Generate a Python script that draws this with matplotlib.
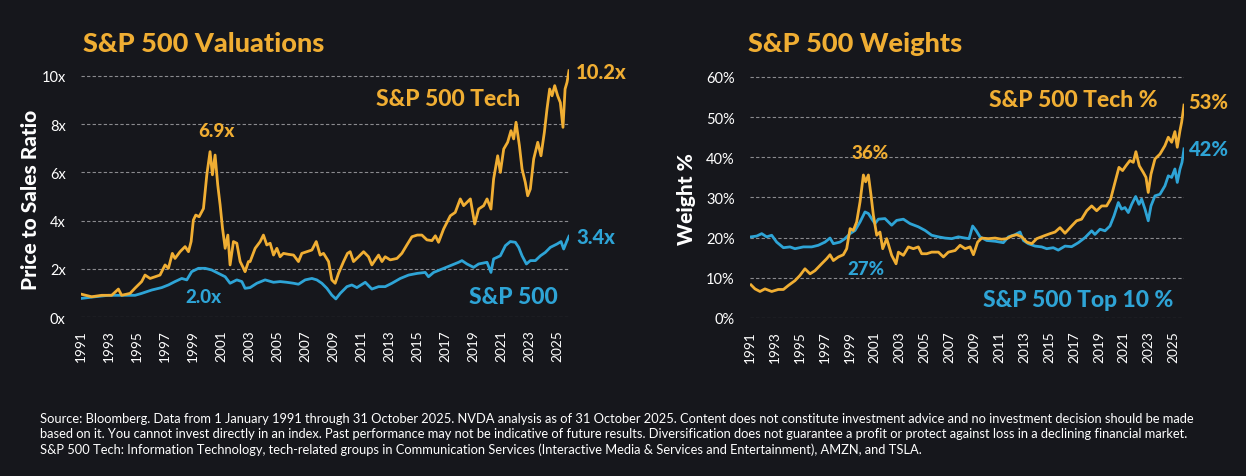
import matplotlib.pyplot as plt

# ---- data ----
ps_tech_years = [1991.00, 1991.76, 1992.48, 1993.19, 1993.67, 1993.90, 1994.50, 1994.86, 1995.33, 1995.57,
                 1995.93, 1996.29, 1996.64, 1997.00, 1997.24, 1997.52, 1997.71, 1998.07, 1998.43, 1998.67,
                 1998.86, 1999.02, 1999.19, 1999.43, 1999.74, 1999.98, 2000.21, 2000.38, 2000.57, 2000.76,
                 2000.93, 2001.10, 2001.29, 2001.48, 2001.64, 2001.88, 2002.12, 2002.36, 2002.60, 2002.71,
                 2002.95, 2003.07, 2003.43, 2003.79, 2004.02, 2004.26, 2004.50, 2004.74, 2004.98, 2005.21,
                 2005.45, 2005.81, 2006.17, 2006.52, 2006.76, 2007.12, 2007.48, 2007.79, 2008.07, 2008.31,
                 2008.67, 2008.90, 2009.14, 2009.38, 2009.74, 2010.02, 2010.21, 2010.45, 2010.81, 2011.17,
                 2011.52, 2011.76, 2012.00, 2012.24, 2012.48, 2012.71, 2013.07, 2013.55, 2013.90, 2014.26,
                 2014.62, 2015.00, 2015.33, 2015.69, 2016.05, 2016.29, 2016.52, 2016.88, 2017.36, 2017.71,
                 2018.07, 2018.31, 2018.55, 2018.79, 2019.10, 2019.38, 2019.74, 2019.98, 2020.26, 2020.45,
                 2020.74, 2020.93, 2021.17, 2021.45, 2021.69, 2021.88, 2022.05, 2022.29, 2022.48, 2022.71,
                 2022.88, 2023.07, 2023.31, 2023.60, 2023.83, 2024.07, 2024.26, 2024.45, 2024.62, 2024.81,
                 2025.02, 2025.21, 2025.40, 2025.55, 2025.69, 2025.83]
ps_tech = [0.95, 0.84, 0.90, 0.90, 1.16, 0.90, 0.98, 1.20, 1.47, 1.74,
           1.60, 1.67, 1.74, 2.16, 2.02, 2.64, 2.43, 2.71, 2.92, 2.71,
           3.13, 4.02, 4.23, 4.16, 4.50, 5.90, 6.86, 5.90, 6.72, 5.48,
           4.65, 3.68, 2.85, 3.40, 2.16, 3.13, 3.06, 2.30, 2.02, 1.88,
           2.30, 2.30, 2.85, 3.13, 3.40, 2.99, 3.06, 2.57, 2.85, 2.50,
           2.64, 2.60, 2.57, 2.30, 2.64, 2.71, 2.78, 3.13, 2.57, 2.64,
           2.30, 1.54, 1.40, 1.81, 2.30, 2.64, 2.71, 2.30, 2.50, 2.71,
           2.50, 2.16, 2.37, 2.57, 2.30, 2.50, 2.37, 2.43, 2.64, 2.99,
           3.33, 3.40, 3.40, 3.20, 3.17, 3.37, 3.10, 3.65, 4.20, 4.34,
           4.90, 4.62, 4.76, 4.90, 3.86, 4.48, 4.62, 4.90, 4.48, 5.73,
           6.69, 6.00, 6.97, 7.25, 7.73, 7.39, 8.08, 7.11, 6.14, 5.59,
           5.03, 5.31, 6.56, 7.25, 6.69, 7.66, 8.63, 9.46, 9.18, 9.60,
           9.18, 8.90, 7.87, 9.46, 9.74, 10.22]

ps_spx_years = [1991.00, 1992.00, 1992.95, 1994.14, 1994.86, 1995.33, 1996.05, 1996.76, 1997.24, 1997.71,
                1998.19, 1998.55, 1998.90, 1999.38, 1999.86, 2000.33, 2000.81, 2001.29, 2001.64, 2002.12,
                2002.48, 2002.71, 2003.07, 2003.55, 2004.14, 2004.74, 2005.21, 2005.69, 2006.17, 2006.52,
                2007.00, 2007.48, 2007.83, 2008.19, 2008.55, 2008.90, 2009.19, 2009.50, 2009.98, 2010.33,
                2010.69, 2011.29, 2011.76, 2012.24, 2012.71, 2013.19, 2013.79, 2014.38, 2015.00, 2015.57,
                2015.80, 2016.17, 2016.64, 2017.36, 2017.95, 2018.19, 2018.55, 2019.02, 2019.38, 2019.98,
                2020.26, 2020.45, 2020.93, 2021.29, 2021.64, 2022.00, 2022.24, 2022.48, 2022.79, 2023.07,
                2023.43, 2023.79, 2024.14, 2024.50, 2024.98, 2025.26, 2025.45, 2025.69, 2025.83]
ps_spx = [0.77, 0.84, 0.90, 0.90, 0.90, 0.98, 1.12, 1.22, 1.33, 1.47,
          1.60, 1.54, 1.88, 2.02, 2.02, 1.95, 1.81, 1.67, 1.40, 1.54,
          1.47, 1.19, 1.22, 1.40, 1.54, 1.44, 1.47, 1.44, 1.40, 1.36,
          1.54, 1.60, 1.54, 1.40, 1.19, 0.91, 0.75, 0.98, 1.26, 1.33,
          1.22, 1.44, 1.16, 1.26, 1.26, 1.40, 1.60, 1.74, 1.81, 1.85,
          1.67, 1.85, 1.96, 2.13, 2.27, 2.34, 2.20, 2.06, 2.20, 2.27,
          1.85, 2.41, 2.54, 2.96, 3.13, 3.10, 2.89, 2.54, 2.20, 2.34,
          2.34, 2.54, 2.68, 2.89, 3.03, 3.13, 2.82, 3.17, 3.35]

wt_tech_years = [1991.08, 1991.40, 1991.80, 1992.20, 1992.74, 1993.27, 1993.68, 1994.08, 1994.61, 1995.01,
                 1995.41, 1995.82, 1996.22, 1996.75, 1997.15, 1997.42, 1997.69, 1998.09, 1998.49, 1998.76,
                 1999.03, 1999.29, 1999.56, 1999.83, 2000.10, 2000.28, 2000.50, 2000.71, 2000.90, 2001.17,
                 2001.43, 2001.65, 2001.97, 2002.37, 2002.72, 2002.91, 2003.31, 2003.71, 2004.11, 2004.51,
                 2004.78, 2005.18, 2005.58, 2006.12, 2006.52, 2006.92, 2007.46, 2007.86, 2008.26, 2008.66,
                 2008.93, 2009.27, 2009.60, 2010.13, 2010.67, 2011.20, 2011.60, 2012.00, 2012.40, 2012.81,
                 2013.21, 2013.61, 2014.01, 2014.55, 2015.08, 2015.48, 2015.88, 2016.28, 2016.81, 2017.21,
                 2017.61, 2018.02, 2018.42, 2018.82, 2019.22, 2019.62, 2019.94, 2020.29, 2020.61, 2020.90,
                 2021.17, 2021.49, 2021.76, 2021.97, 2022.24, 2022.56, 2022.78, 2022.96, 2023.18, 2023.50,
                 2023.90, 2024.30, 2024.57, 2024.84, 2025.10, 2025.29, 2025.51, 2025.64, 2025.83]
wt_tech = [8.25, 7.25, 6.6, 7.25, 6.6, 7.1, 7.1, 8.1, 9.3, 10.6,
           12.25, 11.0, 11.8, 13.5, 14.75, 15.75, 14.3, 15.2, 15.75, 17.25,
           22.25, 21.8, 23.9, 28.9, 35.6, 33.9, 35.6, 30.6, 25.6, 20.6,
           21.4, 17.25, 19.75, 15.6, 13.5, 16.4, 15.6, 17.7, 17.25, 17.7,
           16.0, 16.0, 16.4, 16.4, 15.2, 16.4, 16.8, 18.1, 17.25, 17.7,
           15.75, 18.9, 19.9, 19.75, 19.9, 19.6, 19.75, 20.4, 20.75, 20.2,
           18.9, 18.5, 19.75, 20.4, 21.0, 21.4, 22.5, 21.1, 22.9, 24.2,
           24.6, 26.7, 27.9, 26.7, 27.9, 27.9, 29.6, 33.75, 37.5, 36.7,
           37.9, 39.2, 38.75, 41.4, 37.9, 36.25, 35.0, 31.25, 35.8, 39.6,
           40.8, 42.9, 45.0, 43.75, 46.4, 42.5, 46.7, 48.75, 53.0]

wt_top10_years = [1991.08, 1991.54, 1991.94, 1992.34, 1992.74, 1993.14, 1993.68, 1994.21, 1994.61, 1995.28,
                  1995.95, 1996.48, 1997.02, 1997.42, 1997.69, 1998.22, 1998.62, 1999.03, 1999.43, 1999.83,
                  2000.23, 2000.50, 2000.76, 2001.03, 2001.30, 2001.83, 2002.37, 2002.77, 2003.31, 2003.84,
                  2004.51, 2005.05, 2005.58, 2006.12, 2006.65, 2007.19, 2007.72, 2008.26, 2008.58, 2008.87,
                  2009.14, 2009.46, 2010.00, 2010.67, 2011.33, 2011.74, 2012.27, 2012.67, 2012.94, 2013.34,
                  2013.88, 2014.41, 2014.81, 2015.34, 2015.74, 2016.28, 2016.81, 2017.35, 2017.88, 2018.42,
                  2018.68, 2019.09, 2019.49, 2019.89, 2020.21, 2020.56, 2020.82, 2021.09, 2021.36, 2021.63,
                  2021.95, 2022.22, 2022.43, 2022.70, 2022.96, 2023.18, 2023.50, 2023.90, 2024.30, 2024.57,
                  2024.84, 2025.10, 2025.29, 2025.51, 2025.67, 2025.83]
wt_top10 = [20.2, 20.4, 21.0, 20.2, 20.6, 18.9, 17.5, 17.7, 17.25, 17.7,
            17.7, 18.1, 18.9, 19.9, 18.5, 18.9, 19.75, 21.0, 21.8, 23.9,
            26.4, 26.0, 24.75, 23.5, 24.6, 24.75, 23.1, 24.3, 24.6, 23.5,
            22.7, 21.8, 20.6, 20.2, 19.9, 19.75, 20.2, 19.9, 19.75, 22.9,
            21.8, 20.2, 19.3, 19.1, 18.75, 20.2, 20.75, 21.4, 19.3, 18.5,
            17.9, 17.7, 17.25, 17.5, 16.9, 17.9, 17.75, 18.75, 20.0, 21.7,
            20.8, 22.1, 21.7, 22.9, 25.4, 28.75, 27.1, 27.5, 26.25, 28.3,
            30.25, 28.3, 29.6, 27.1, 24.2, 27.9, 30.4, 30.8, 32.9, 35.4,
            35.0, 37.1, 33.75, 37.1, 38.75, 42.1]

year_ticks = list(range(1991, 2026, 2))
ps_ticks = [0, 2, 4, 6, 8, 10]
wt_ticks = [0, 10, 20, 30, 40, 50, 60]

footnote = ("Source: Bloomberg. Data from 1 January 1991 through 31 October 2025. NVDA analysis as of 31 October 2025. "
            "Content does not constitute investment advice and no investment decision should be made\n"
            "based on it. You cannot invest directly in an index. Past performance may not be indicative of future results. "
            "Diversification does not guarantee a profit or protect against loss in a declining financial market.\n"
            "S&P 500 Tech: Information Technology, tech-related groups in Communication Services "
            "(Interactive Media & Services and Entertainment), AMZN, and TSLA.")

BG = '#16171c'
ORANGE = '#f0ae33'
BLUE = '#2ea4d6'
W, H = 1246, 477

plt.rcParams['font.family'] = ['Lato', 'DejaVu Sans']

fig = plt.figure(figsize=(W / 100, H / 100), dpi=100, facecolor=BG)


def px_axes(x0, x1, y_bottom, height):
    # axes from pixel coordinates of the reference
    return fig.add_axes([x0 / W, (H - y_bottom) / H, (x1 - x0) / W, height / H])


def style(ax, yticks, fmt, ylim):
    ax.set_facecolor(BG)
    ax.set_xlim(1991.0, 2025.83)
    ax.set_ylim(*ylim)
    ax.set_xticks(year_ticks)
    ax.set_xticklabels([str(y) for y in year_ticks], rotation=90, color='white', fontsize=9.8)
    ax.set_yticks(yticks)
    ax.set_yticklabels([fmt.format(v) for v in yticks], color='white', fontsize=10.5)
    ax.tick_params(axis='both', length=0)
    ax.tick_params(axis='x', pad=9)
    ax.tick_params(axis='y', pad=11)
    for s in ax.spines.values():
        s.set_visible(False)
    for v in yticks:
        ax.axhline(v, color='#8a8a8e', lw=0.8, dashes=(3, 2), zorder=0)


HEAVY = 'black'

# left: price to sales
ax1 = px_axes(81, 569, 318, 10.4 * 24.1)
style(ax1, ps_ticks, '{}x', (0, 10.4))
ax1.plot(ps_spx_years, ps_spx, color=BLUE, lw=2.0)
ax1.plot(ps_tech_years, ps_tech, color=ORANGE, lw=2.0)

bold = dict(fontweight=HEAVY, ha='center', va='center')
edge = dict(fontweight=HEAVY, ha='left', va='center')
ax1.text(2000.64, 7.72, '6.9x', color=ORANGE, fontsize=13.5, **bold)
ax1.text(2017.2, 9.05, 'S&P 500 Tech', color=ORANGE, fontsize=16.5, **bold)
ax1.text(2026.35, 10.2, '10.2x', color=ORANGE, fontsize=14.5, **edge)
ax1.text(1999.75, 0.83, '2.0x', color=BLUE, fontsize=13.5, **bold)
ax1.text(2026.35, 3.32, '3.4x', color=BLUE, fontsize=14.5, **edge)
ax1.text(2021.86, 0.83, 'S&P 500', color=BLUE, fontsize=16.5, **bold)

# right: weights
ax2 = px_axes(750, 1184, 319, 62 * 4.017)
style(ax2, wt_ticks, '{}%', (0, 62))
ax2.plot(wt_top10_years, wt_top10, color=BLUE, lw=2.0)
ax2.plot(wt_tech_years, wt_tech, color=ORANGE, lw=2.0)

ax2.text(2016.96, 54.5, 'S&P 500 Tech %', color=ORANGE, fontsize=16.5, **bold)
ax2.text(2026.2, 53.8, '53%', color=ORANGE, fontsize=14.5, **edge)
ax2.text(2000.63, 41.3, '36%', color=ORANGE, fontsize=13.5, **bold)
ax2.text(2000.31, 12.2, '27%', color=BLUE, fontsize=13.5, **bold)
ax2.text(2026.2, 42.1, '42%', color=BLUE, fontsize=14.5, **edge)
ax2.text(2017.3, 4.7, 'S&P 500 Top 10 %', color=BLUE, fontsize=16.5, **bold)

# titles, axis labels, footnote
fig.text(83 / W, 1 - 52 / H, 'S&P 500 Valuations', color=ORANGE, fontsize=19.5, fontweight=HEAVY, va='baseline')
fig.text(748 / W, 1 - 52 / H, 'S&P 500 Weights', color=ORANGE, fontsize=19.5, fontweight=HEAVY, va='baseline')
fig.text(31 / W, 1 - 200 / H, 'Price to Sales Ratio', color='white', fontsize=15, fontweight=HEAVY,
         rotation=90, ha='center', va='center')
fig.text(686 / W, 1 - 199 / H, 'Weight %', color='white', fontsize=15, fontweight=HEAVY,
         rotation=90, ha='center', va='center')
fig.text(40 / W, 1 - 413 / H, footnote, color='white', fontsize=9.3, va='top', linespacing=1.3)

fig.savefig('out.png', dpi=100, facecolor=BG)
